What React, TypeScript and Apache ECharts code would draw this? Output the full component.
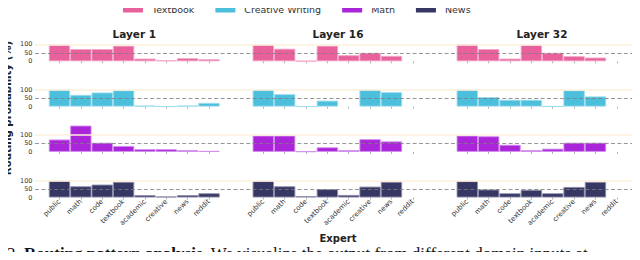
import React, { useEffect, useRef } from 'react';
import * as echarts from 'echarts';

const experts = ['public', 'math', 'code', 'textbook', 'academic', 'creative', 'news', 'reddit'];
const layers = ['Layer 1', 'Layer 16', 'Layer 32'];
const domains = ['Textbook', 'Creative Writing', 'Math', 'News'];
const yTicks = [0, 50, 100];

// Routing probability (%) per expert
const textbookL1 = [98, 72, 72, 92, 16, 6, 18, 12];
const textbookL16 = [98, 74, 2, 92, 36, 50, 32, 0];
const textbookL32 = [100, 72, 16, 96, 50, 30, 22, 0];

const creativeL1 = [100, 69, 83, 96, 6, 1, 6, 22];
const creativeL16 = [100, 73, 1, 35, 0, 100, 85, 0];
const creativeL32 = [100, 56, 40, 40, 2, 96, 60, 0];

const mathL1 = [73, 155, 54, 35, 16, 16, 10, 6];
const mathL16 = [96, 96, 3, 27, 10, 75, 62, 0];
const mathL32 = [96, 92, 42, 10, 19, 54, 54, 0];

const newsL1 = [98, 66, 76, 92, 14, 6, 14, 25];
const newsL16 = [96, 66, 8, 49, 15, 64, 92, 0];
const newsL32 = [96, 47, 25, 45, 25, 62, 92, 0];

const refLine = 50;
const topLine = 100;

const FONT = 'DejaVu Sans';
const colors = ['#e8609c', '#4bbfdb', '#aa25da', '#363763'];
const edgeColors = ['#f2a6c7', '#9edbed', '#d28eee', '#8e8fab'];

export default function App() {
  const ref = useRef<HTMLDivElement>(null);

  useEffect(() => {
    if (!ref.current) return;
    const chart = echarts.init(ref.current, undefined, { renderer: 'svg' });

    const rowValues = [
      [textbookL1, textbookL16, textbookL32],
      [creativeL1, creativeL16, creativeL32],
      [mathL1, mathL16, mathL32],
      [newsL1, newsL16, newsL32],
    ];

    const rowZero = [61.3, 106.6, 151.9, 197.5];
    const rowH = 17;
    const colLeft = [48.8, 252.6, 456.6];
    const colW = 170.9;

    const grid: any[] = [];
    const xAxis: any[] = [];
    const yAxis: any[] = [];
    const series: any[] = [];

    rowZero.forEach((z, r) => {
      const top = z - rowH;
      const bi = grid.length;
      grid.push({ left: 35, right: 0, top, height: rowH });
      xAxis.push({ gridIndex: bi, type: 'value', min: 0, max: 1, show: false });
      yAxis.push({
        gridIndex: bi,
        type: 'value',
        min: yTicks[0],
        max: yTicks[yTicks.length - 1],
        interval: 50,
        axisLine: { show: false },
        axisTick: { show: false },
        splitLine: { show: false },
        axisLabel: { show: true, fontSize: 6.5, color: '#333', margin: 2.5, fontFamily: FONT },
      });
      series.push({
        name: '_top' + r,
        type: 'line',
        xAxisIndex: bi,
        yAxisIndex: bi,
        data: [[0, 0]],
        symbol: 'none',
        lineStyle: { opacity: 0 },
        z: 1,
        silent: true,
        markLine: {
          silent: true,
          symbol: ['none', 'none'],
          label: { show: false },
          lineStyle: { type: 'solid', color: '#fdf0dc', width: 1.5 },
          data: [{ yAxis: topLine }],
        },
      });
      series.push({
        name: '_ref' + r,
        type: 'line',
        xAxisIndex: bi,
        yAxisIndex: bi,
        data: [[0, 0]],
        symbol: 'none',
        lineStyle: { opacity: 0 },
        z: 5,
        silent: true,
        markLine: {
          silent: true,
          symbol: ['none', 'none'],
          label: { show: false },
          lineStyle: { type: [4, 2.4], color: 'rgba(125,125,125,0.8)', width: 1.2 },
          data: [{ yAxis: refLine }],
        },
      });

      layers.forEach((_, c) => {
        const gi = grid.length;
        grid.push({ left: colLeft[c], width: colW, top, height: rowH });
        xAxis.push({
          gridIndex: gi,
          type: 'category',
          data: experts,
          axisLine: { show: false },
          axisTick: { show: true, alignWithLabel: true, length: 2, lineStyle: { color: '#999', width: 0.8 } },
          axisLabel: {
            show: r === rowZero.length - 1,
            rotate: 45,
            fontSize: 7,
            color: '#333',
            margin: 3,
            fontFamily: FONT,
          },
          splitLine: { show: false },
        });
        yAxis.push({ gridIndex: gi, type: 'value', min: 0, max: 100, show: false, splitLine: { show: false } });
        series.push({
          name: domains[r],
          type: 'bar',
          xAxisIndex: gi,
          yAxisIndex: gi,
          barCategoryGap: '0%',
          clip: false,
          z: 2,
          itemStyle: { color: colors[r], borderColor: edgeColors[r], borderWidth: 0.9 },
          data: rowValues[r][c].map((v) => (v === 0 ? { value: v, itemStyle: { borderWidth: 0 } } : v)),
        });
      });
    });

    chart.setOption({
      animation: false,
      textStyle: { fontFamily: FONT },
      legend: {
        data: domains.map((d, i) => ({ name: d, itemStyle: { color: colors[i], borderWidth: 0 } })),
        left: 118,
        top: -1,
        icon: 'rect',
        itemWidth: 20,
        itemHeight: 7,
        itemGap: 21,
        textStyle: { fontSize: 9.5, color: '#333', fontFamily: FONT, padding: [0, 0, 0, 4] },
      },
      grid,
      xAxis,
      yAxis,
      series,
      graphic: [
        ...layers.map((l, c) => ({
          type: 'text',
          x: colLeft[c] + colW / 2,
          y: 33.5,
          style: {
            text: l,
            fontFamily: FONT,
            fontWeight: 'bold',
            fontSize: 10.5,
            fill: '#222',
            align: 'center',
            verticalAlign: 'middle',
          },
        })),
        {
          type: 'text',
          x: 7.5,
          y: 108,
          rotation: Math.PI / 2,
          style: {
            text: 'Routing probability (%)',
            fontFamily: FONT,
            fontWeight: 'bold',
            fontSize: 10.2,
            fill: '#222',
            align: 'center',
            verticalAlign: 'middle',
          },
        },
        {
          type: 'text',
          x: 338,
          y: 238,
          style: {
            text: 'Expert',
            fontFamily: FONT,
            fontWeight: 'bold',
            fontSize: 10,
            fill: '#222',
            align: 'center',
            verticalAlign: 'middle',
          },
        },
        {
          type: 'text',
          x: 7,
          y: 245,
          style: {
            text: '2. {b|Routing pattern analysis.} We visualize the output from different domain inputs at',
            fontFamily: 'Liberation Serif',
            fontSize: 17,
            fill: '#111',
            align: 'left',
            verticalAlign: 'top',
            rich: {
              b: { fontFamily: 'Liberation Serif', fontWeight: 'bold', fontSize: 17, fill: '#111' },
            },
          },
        },
      ],
    });

    return () => chart.dispose();
  }, []);

  return <div ref={ref} style={{ width: 640, height: 260, margin: -8 }} />;
}
